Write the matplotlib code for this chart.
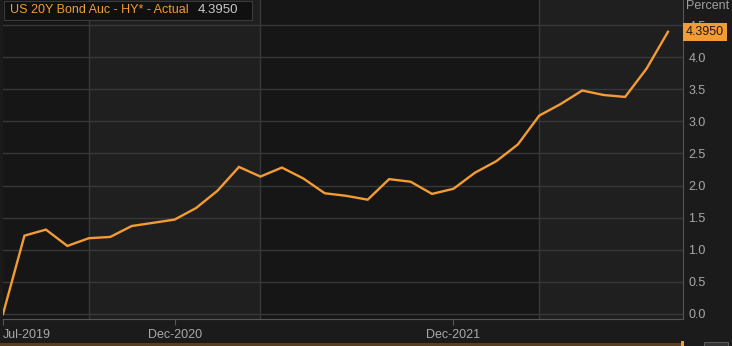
import matplotlib
matplotlib.use("Agg")
import matplotlib.pyplot as plt
from matplotlib.patches import Rectangle

plt.rcParams['font.family'] = ['Liberation Sans', 'DejaVu Sans']

values = [0.0, 1.22, 1.314, 1.06, 1.18, 1.20, 1.37, 1.42, 1.47, 1.65, 1.92, 2.29,
          2.14, 2.28, 2.11, 1.88, 1.84, 1.78, 2.10, 2.06, 1.87, 1.95, 2.20, 2.38,
          2.64, 3.09, 3.27, 3.48, 3.41, 3.38, 3.82, 4.395]
tick_idx = [0, 8, 21]
tick_labels = ["Jul-2019", "Dec-2020", "Dec-2021"]
band_edges = [4, 12, 25]
yticks = [0.0, 0.5, 1.0, 1.5, 2.0, 2.5, 3.0, 3.5, 4.0, 4.5]
series_name = "US 20Y Bond Auc - HY* - Actual"
last_label = "4.3950"

W, H = 732, 346
fig = plt.figure(figsize=(W / 100, H / 100), dpi=100, facecolor="#1b1b1b")
left, right, top, bottom = 3, 683, 0, 319
ax = fig.add_axes([left / W, 1 - bottom / H, (right - left) / W, (bottom - top) / H])
ax.set_facecolor("#1e1e1e")

n = len(values)
x = list(range(n))
step = 665 / 31
xmax = (right - left) / step
ax.set_xlim(0, xmax)
y0px, y45px = 314, 25
ppu = (y0px - y45px) / 4.5
ax.set_ylim(-(bottom - y0px) / ppu, (y0px - top) / ppu)

# alternating bands
edges = [0] + band_edges + [xmax]
for i in range(len(edges) - 1):
    col = "#161616" if i % 2 == 0 else "#1f1f1f"
    ax.axvspan(edges[i], edges[i + 1], color=col, zorder=0, lw=0)
for e in band_edges:
    ax.axvline(e, color="#383838", lw=1, zorder=1)
for yv in yticks:
    ax.axhline(yv, color="#383838", lw=1, zorder=1)

ax.plot(x, values, color="#f39c34", lw=1.7, zorder=3, solid_joinstyle="miter")

for s in ["top", "left"]:
    ax.spines[s].set_visible(False)
ax.spines["right"].set_color("#555555")
ax.spines["bottom"].set_color("#555555")
ax.yaxis.tick_right()
ax.set_yticks(yticks)
ax.set_yticklabels([f"{v:.1f}" for v in yticks])
ax.tick_params(axis="y", length=0, pad=4, colors="#a8a8a8", labelsize=9)
ax.set_xticks(tick_idx)
ax.set_xticklabels(tick_labels)
ax.tick_params(axis="x", length=4, color="#555555", colors="#a8a8a8", labelsize=9, pad=3)
for lab in ax.get_xticklabels():
    lab.set_horizontalalignment("left" if lab.get_text() == tick_labels[0] else "center")

fig.text(686 / W, 1 - 6 / H, "Percent", color="#a0a0a0", fontsize=9, va="center", ha="left")

# last value tag
ax.annotate(last_label, xy=(1, values[-1]), xycoords=("axes fraction", "data"),
            xytext=(2, 0), textcoords="offset points", va="center", ha="left",
            fontsize=9, color="#1b1b1b",
            bbox=dict(boxstyle="square,pad=0.25", fc="#f39c34", ec="none"), zorder=5)

# legend box
fig.patches.append(Rectangle((4 / W, 1 - 20 / H), 248 / W, 19 / H, transform=fig.transFigure,
                             fc="#101010", ec="#3a3a3a", lw=0.8, zorder=4))
fig.text(10 / W, 1 - 10 / H, series_name, color="#f39c34", fontsize=9, va="center", ha="left", zorder=5)
fig.text(198 / W, 1 - 10 / H, last_label, color="#c8c8c8", fontsize=9.5, va="center", ha="left", zorder=5)

# navigator strip at bottom
fig.patches.append(Rectangle((0, 0), 683 / W, 3 / H, transform=fig.transFigure,
                             fc="#5a3e1e", ec="none", zorder=4))
fig.patches.append(Rectangle((681 / W, 0), 3 / W, 5 / H, transform=fig.transFigure,
                             fc="#f39c34", ec="none", zorder=4))
fig.patches.append(Rectangle((704 / W, 0), 24 / W, 4 / H, transform=fig.transFigure,
                             fc="#333333", ec="#666666", lw=0.6, zorder=4))

fig.savefig("out.png", dpi=100, facecolor=fig.get_facecolor())
